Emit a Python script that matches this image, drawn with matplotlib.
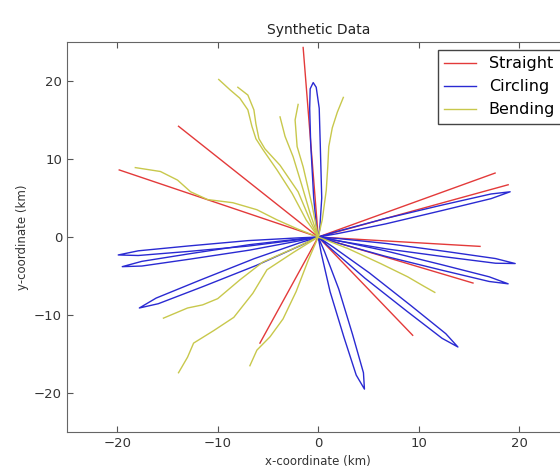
import matplotlib
matplotlib.use("Agg")
import matplotlib.pyplot as plt

# end points of the straight tracks (all start at the origin)
straight_x = [-1.5, -13.9, -19.8, 17.6, 18.9, 16.1, 15.4, 9.4, -5.8]
straight_y = [24.3, 14.2, 8.6, 8.2, 6.7, -1.2, -5.9, -12.6, -13.6]

# circling tracks: thin out-and-back loops
circ_x = [
    [0, 0.15, 0.35, 0.2, 0.1, -0.2, -0.5, -0.8, -0.85, -0.75, -0.45, -0.15, 0],
    [0, 1.9, 6.7, 12.4, 17.2, 19.1, 17.2, 12.4, 6.7, 1.9, 0],
    [0, 1.96, 6.86, 12.74, 17.64, 19.6, 17.64, 12.74, 6.86, 1.96, 0],
    [0, 1.89, 6.62, 12.29, 17.01, 18.9, 17.01, 12.29, 6.62, 1.89, 0],
    [0, 1.47, 5.08, 9.25, 12.69, 13.9, 12.33, 8.83, 4.66, 1.31, 0],
    [0, 0.63, 2.04, 3.42, 4.5, 4.6, 3.78, 2.56, 1.18, 0.29, 0],
    [0, -1.99, -6.97, -12.94, -17.91, -19.9, -17.91, -12.94, -6.97, -1.99, 0],
    [0, -1.95, -6.83, -12.68, -17.55, -19.5, -17.55, -12.68, -6.83, -1.95, 0],
    [0, -1.73, -6.1, -11.44, -15.91, -17.8, -16.13, -11.7, -6.36, -1.83, 0],
]
circ_y = [
    [0, 1, 5, 12, 16.5, 19.2, 19.8, 19.0, 16.5, 12, 5, 1, 0],
    [0, 0.73, 2.38, 4.12, 5.52, 5.8, 4.92, 3.42, 1.68, 0.43, 0],
    [0, -0.19, -0.84, -1.86, -2.76, -3.4, -3.36, -2.56, -1.54, -0.49, 0],
    [0, -0.45, -1.75, -3.55, -5.1, -6.0, -5.7, -4.25, -2.45, -0.75, 0],
    [0, -1.27, -4.59, -8.82, -12.39, -14.1, -12.99, -9.52, -5.29, -1.55, 0],
    [0, -1.88, -6.66, -12.51, -17.4, -19.5, -17.7, -12.85, -7.0, -2.02, 0],
    [0, -0.11, -0.46, -1.15, -1.77, -2.3, -2.37, -1.85, -1.16, -0.35, 0],
    [0, -0.26, -0.98, -2.12, -3.12, -3.8, -3.72, -2.82, -1.68, -0.5, 0],
    [0, -1.08, -3.61, -6.34, -8.55, -9.1, -7.83, -5.5, -2.77, -0.74, 0],
]

# bending tracks
bend_x = [
    [0, -1.2, -2.6, -4.1, -5.5, -6.2, -6.6, -7.0, -7.8, -8.8, -9.9],
    [0, -0.7, -2.0, -3.8, -5.3, -5.9, -6.2, -6.4, -7.0, -8.0],
    [0, -0.8, -1.6, -2.5, -3.3, -3.8],
    [0, -0.6, -1.5, -2.1, -2.3, -2.0],
    [0, 0.4, 0.8, 0.95, 1.05, 1.4, 1.9, 2.5],
    [0, -2.0, -4.1, -6.1, -8.5, -11.0, -12.7, -14.0, -15.7, -18.2],
    [0, -2.5, -5.5, -7.8, -10.0, -11.5, -13.0, -15.4],
    [0, -2.5, -5.1, -6.5, -8.4, -10.4, -12.4, -13.0, -13.9],
    [0, -1.0, -2.2, -3.5, -4.8, -6.1, -6.8],
    [0, 3.0, 6.2, 8.9, 10.5, 11.6],
]
bend_y = [
    [0, 2.2, 5.6, 8.6, 11.2, 12.6, 14.2, 16.3, 17.8, 18.9, 20.2],
    [0, 1.8, 5.8, 9.2, 11.3, 12.6, 14.5, 16.3, 18.2, 19.2],
    [0, 3.0, 6.5, 10.3, 12.9, 15.4],
    [0, 4.0, 9.0, 11.6, 15.0, 17.0],
    [0, 2.2, 6.0, 9.0, 11.6, 14.0, 16.0, 17.9],
    [0, 1.0, 2.2, 3.5, 4.4, 4.8, 5.8, 7.3, 8.4, 8.9],
    [0, -1.5, -3.2, -5.5, -7.9, -8.7, -9.1, -10.4],
    [0, -2.0, -4.2, -7.2, -10.3, -12.0, -13.6, -15.4, -17.4],
    [0, -3.0, -7.0, -10.5, -12.8, -14.5, -16.5],
    [0, -1.5, -3.4, -5.1, -6.3, -7.1],
]

red = "#e33a3a"
blue = "#2a2ad2"
yel = "#c8c84c"

plt.rcParams["xtick.direction"] = "in"
plt.rcParams["ytick.direction"] = "in"
plt.rcParams["xtick.top"] = True
plt.rcParams["ytick.right"] = True

fig = plt.figure(figsize=(5.6, 4.68), dpi=100)
ax = fig.add_axes([0.1196, 0.0769, 0.8973, 0.8333])

for i, (x, y) in enumerate(zip(straight_x, straight_y)):
    ax.plot([0, x], [0, y], color=red, lw=1.0, label="Straight" if i == 0 else None)
for i, (x, y) in enumerate(zip(circ_x, circ_y)):
    ax.plot(x, y, color=blue, lw=1.0, label="Circling" if i == 0 else None)
for i, (x, y) in enumerate(zip(bend_x, bend_y)):
    ax.plot(x, y, color=yel, lw=1.0, label="Bending" if i == 0 else None)

ax.set_xlim(-25, 25)
ax.set_ylim(-25, 25)
ax.set_xticks([-20, -10, 0, 10, 20])
ax.set_yticks([-20, -10, 0, 10, 20])
ax.tick_params(labelsize=9.5, length=4, color="#555555", labelcolor="#333333")
for s in ax.spines.values():
    s.set_color("#666666")

ax.set_title("Synthetic Data", fontsize=10, color="#222222")
ax.set_xlabel("x-coordinate (km)", fontsize=8.5, color="#333333")
ax.set_ylabel("y-coordinate (km)", fontsize=8.5, color="#333333")

leg = ax.legend(loc="upper right", fontsize=11.5, fancybox=False, framealpha=1,
                borderaxespad=0.5, handlelength=2.0, labelspacing=0.5)
leg.get_frame().set_edgecolor("#444444")

fig.savefig("out.png", dpi=100)
